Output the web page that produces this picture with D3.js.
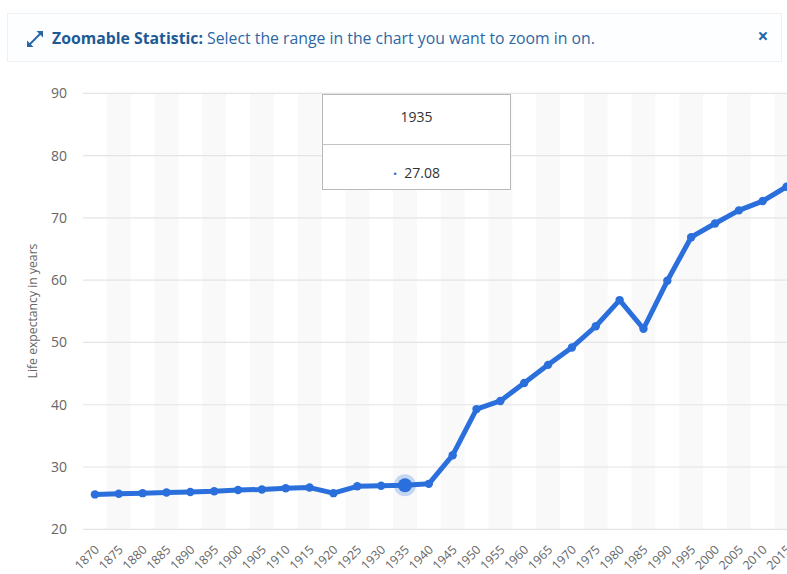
<!DOCTYPE html>
<html>
<head>
<meta charset="utf-8">
<script src="https://cdn.jsdelivr.net/npm/d3@7/dist/d3.min.js"></script>
<style>
  html, body { margin: 0; padding: 0; background: #fff; }
  body { width: 787px; height: 574px; overflow: hidden; font-family: "Open Sans", "Noto Sans", sans-serif; }
  svg { display: block; }
</style>
</head>
<body>
<svg id="chart" width="787" height="574"></svg>
<script>
// Life expectancy in years, five-year steps
const years = [1870, 1875, 1880, 1885, 1890, 1895, 1900, 1905, 1910, 1915,
               1920, 1925, 1930, 1935, 1940, 1945, 1950, 1955, 1960, 1965,
               1970, 1975, 1980, 1985, 1990, 1995, 2000, 2005, 2010, 2015];
const lifeExpectancy = [25.6, 25.7, 25.8, 25.9, 26.0, 26.1, 26.3, 26.4, 26.6, 26.7,
                        25.8, 26.9, 27.0, 27.08, 27.3, 31.9, 39.3, 40.6, 43.5, 46.4,
                        49.2, 52.6, 56.8, 52.2, 59.9, 66.9, 69.1, 71.2, 72.7, 75.0];
const yTicks = [20, 30, 40, 50, 60, 70, 80, 90];
const highlightYear = 1935;

const svg = d3.select("#chart");

// ---- notice banner ----
const banner = svg.append("g");
banner.append("rect")
  .attr("x", 7.5).attr("y", 13.5).attr("width", 774).attr("height", 48)
  .attr("fill", "#fdfeff").attr("stroke", "#eef1f4").attr("stroke-width", 1);
// diagonal expand icon
const icon = banner.append("g").attr("stroke", "#2767a8").attr("fill", "#2767a8");
icon.append("line").attr("x1", 29.5).attr("y1", 44.5).attr("x2", 40.5).attr("y2", 33.5)
  .attr("stroke-width", 2);
icon.append("path").attr("d", "M27,47 L27,40.5 L33.5,47 Z").attr("stroke", "none");
icon.append("path").attr("d", "M43,31 L43,37.5 L36.5,31 Z").attr("stroke", "none");
const bannerText = banner.append("text")
  .attr("x", 52).attr("y", 43.5)
  .attr("font-size", 15.8).attr("fill", "#2e68a3");
bannerText.append("tspan").attr("font-weight", 700).attr("fill", "#1d5a96").text("Zoomable Statistic:");
bannerText.append("tspan").text(" Select the range in the chart you want to zoom in on.");
banner.append("text")
  .attr("x", 763).attr("y", 43).attr("text-anchor", "middle")
  .attr("font-size", 19).attr("font-weight", 700).attr("fill", "#2767a8")
  .text("×");

// ---- plot ----
const plotLeft = 83, plotTop = 93.3, plotBottom = 529.3;
const x = d3.scaleBand().domain(years).range([plotLeft, plotLeft + years.length * 23.85]);
const y = d3.scaleLinear().domain([20, 90]).range([plotBottom, plotTop]);

const plot = svg.append("g");

// alternating column bands
plot.selectAll("rect.band")
  .data(years.filter((d, i) => i % 2 === 1))
  .join("rect")
  .attr("class", "band")
  .attr("x", d => x(d)).attr("y", plotTop)
  .attr("width", x.bandwidth()).attr("height", plotBottom - plotTop)
  .attr("fill", "#f9f9f9");

// horizontal grid
plot.selectAll("line.grid")
  .data(yTicks)
  .join("line")
  .attr("class", "grid")
  .attr("x1", plotLeft).attr("x2", 787)
  .attr("y1", d => y(d)).attr("y2", d => y(d))
  .attr("stroke", "#e4e4e4").attr("stroke-width", 1.2);

// y axis labels
const yAxis = d3.axisLeft(y).tickValues(yTicks).tickSize(0).tickPadding(0);
svg.append("g")
  .attr("transform", "translate(67,0)")
  .call(yAxis)
  .call(g => g.select(".domain").remove())
  .call(g => g.selectAll("text")
    .attr("font-family", "\"Open Sans\", sans-serif")
    .attr("font-size", 14).attr("fill", "#666"));

svg.append("text")
  .attr("transform", "translate(37,311) rotate(-90)")
  .attr("text-anchor", "middle")
  .attr("font-size", 12.2).attr("fill", "#666")
  .text("Life expectancy in years");

// x axis labels
const xAxis = d3.axisBottom(x).tickSize(0).tickPadding(0);
svg.append("g")
  .attr("transform", "translate(0,541)")
  .call(xAxis)
  .call(g => g.select(".domain").remove())
  .call(g => g.selectAll("text")
    .attr("font-family", "\"Open Sans\", sans-serif")
    .attr("font-size", 12.3).attr("fill", "#666")
    .attr("text-anchor", "end")
    .attr("dy", "0.35em")
    .attr("transform", "translate(2,6.5) rotate(-45)"));

// series line and markers
const data = years.map((yr, i) => ({ year: yr, value: lifeExpectancy[i] }));
const cx = d => x(d.year) + x.bandwidth() / 2;
const line = d3.line().x(cx).y(d => y(d.value));

plot.append("path")
  .datum(data)
  .attr("d", line)
  .attr("fill", "none")
  .attr("stroke", "#2a6fdb")
  .attr("stroke-width", 5)
  .attr("stroke-linejoin", "round")
  .attr("stroke-linecap", "round");

plot.selectAll("circle.pt")
  .data(data)
  .join("circle")
  .attr("class", "pt")
  .attr("cx", cx).attr("cy", d => y(d.value))
  .attr("r", 4.2)
  .attr("fill", "#2a6fdb");

// hovered point
const hi = data.find(d => d.year === highlightYear);
plot.append("circle")
  .attr("cx", cx(hi)).attr("cy", y(hi.value)).attr("r", 11)
  .attr("fill", "#2a6fdb").attr("fill-opacity", 0.25);
plot.append("circle")
  .attr("cx", cx(hi)).attr("cy", y(hi.value)).attr("r", 7)
  .attr("fill", "#2a6fdb");

// tooltip
const tip = svg.append("g");
tip.append("rect")
  .attr("x", 322.5).attr("y", 94.5).attr("width", 188).attr("height", 95)
  .attr("fill", "#fff").attr("stroke", "#b8b8b8").attr("stroke-width", 1);
tip.append("line")
  .attr("x1", 322.5).attr("x2", 510.5).attr("y1", 144.5).attr("y2", 144.5)
  .attr("stroke", "#c4c4c4").attr("stroke-width", 1);
tip.append("text")
  .attr("x", 416.5).attr("y", 122).attr("text-anchor", "middle")
  .attr("font-size", 14).attr("fill", "#333")
  .text(hi.year);
const valText = tip.append("text")
  .attr("x", 416.5).attr("y", 178).attr("text-anchor", "middle")
  .attr("font-size", 14).attr("fill", "#333");
valText.append("tspan").attr("fill", "#2a6fdb").attr("font-size", 11).text("•");
valText.append("tspan").attr("dx", 7).text(hi.value.toFixed(2));
</script>
</body>
</html>
